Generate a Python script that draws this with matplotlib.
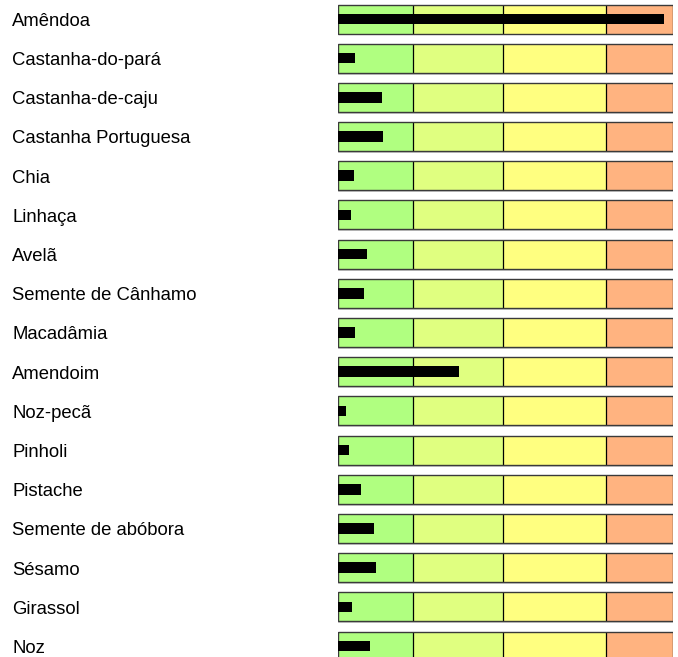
import matplotlib.pyplot as plt
from matplotlib.transforms import blended_transform_factory

plt.rcParams['font.family'] = ['Liberation Sans', 'DejaVu Sans']

foods = ['Amêndoa', 'Castanha-do-pará', 'Castanha-de-caju', 'Castanha Portuguesa',
         'Chia', 'Linhaça', 'Avelã', 'Semente de Cânhamo', 'Macadâmia', 'Amendoim',
         'Noz-pecã', 'Pinholi', 'Pistache', 'Semente de abóbora', 'Sésamo',
         'Girassol', 'Noz']
values = [97.3, 5.1, 13.1, 13.4, 4.8, 3.9, 8.7, 7.8, 5.1, 36.0,
          2.5, 3.3, 6.9, 10.7, 11.3, 4.3, 9.7]

# zone limits (percent of scale) and their colours
zone_edges = [0, 22.4, 49.3, 80.0, 100]
zone_colors = ['#b0ff80', '#e0ff80', '#ffff80', '#ffb380']

fig = plt.figure(figsize=(6.78, 6.57), dpi=100)
ax = fig.add_axes([338 / 678, 0, (673 - 338) / 678, 1])
ax.set_xlim(0, 100)
ax.set_ylim(16.28, -0.485)
ax.axis('off')

rows = range(len(foods))
h = 0.74
for r in rows:
    # faint shadow under each gauge
    ax.barh(r + 0.05, 100, height=h, left=0, color='#cfcfcf', zorder=0)
    for i in range(4):
        ax.barh(r, zone_edges[i + 1] - zone_edges[i], height=h, left=zone_edges[i],
                color=zone_colors[i], zorder=1)
    ax.vlines(zone_edges[1:4], r - h / 2, r + h / 2, color='black', lw=0.9, zorder=2)
    ax.barh(r, 100, height=h, left=0, fill=False, edgecolor='#3a3a3a', lw=1.0, zorder=3)

ax.barh(list(rows), values, height=0.27, left=0, color='black', zorder=4)

trans = blended_transform_factory(fig.transFigure, ax.transData)
for r, name in enumerate(foods):
    ax.text(12 / 678, r + 0.175, name, transform=trans, ha='left', va='baseline',
            fontsize=13.3, color='black')

fig.savefig('out.png', dpi=100)
